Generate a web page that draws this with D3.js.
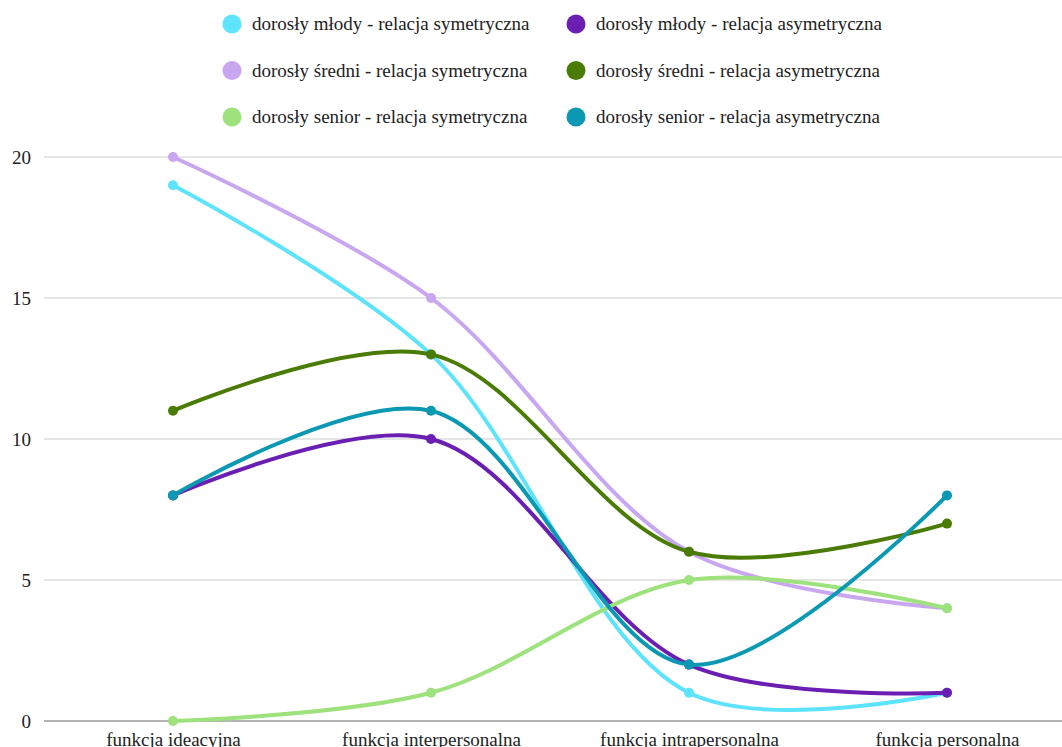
<!DOCTYPE html>
<html lang="pl">
<head>
<meta charset="utf-8">
<script src="https://cdn.jsdelivr.net/npm/d3@7"></script>
<style>
  html, body { margin: 0; padding: 0; background: #fff; }
  svg { display: block; }
  text { font-family: "Liberation Serif", "Times New Roman", Tinos, serif; fill: #222; }
</style>
</head>
<body>
<svg id="chart" width="1062" height="747"></svg>
<script>
// Categories on the x axis
const categories = [
  "funkcja ideacyjna",
  "funkcja interpersonalna",
  "funkcja intrapersonalna",
  "funkcja personalna"
];

// Series names (legend order, row by row)
const seriesNames = [
  "dorosły młody - relacja symetryczna",
  "dorosły młody - relacja asymetryczna",
  "dorosły średni - relacja symetryczna",
  "dorosły średni - relacja asymetryczna",
  "dorosły senior - relacja symetryczna",
  "dorosły senior - relacja asymetryczna"
];

// Values per series, one per category
const mlodySym   = [19, 13, 1, 1];
const mlodyAsym  = [8, 10, 2, 1];
const sredniSym  = [20, 15, 6, 4];
const sredniAsym = [11, 13, 6, 7];
const seniorSym  = [0, 1, 5, 4];
const seniorAsym = [8, 11, 2, 8];

const seriesValues = [mlodySym, mlodyAsym, sredniSym, sredniAsym, seniorSym, seniorAsym];
const seriesColors = ["#5de3fb", "#6a1fb2", "#c9a7f0", "#4a7b05", "#9de27c", "#0a98b3"];

// Y axis ticks
const yTicks = [0, 5, 10, 15, 20];

const FONT = 19;
const svg = d3.select("#chart");

const x = d3.scalePoint()
  .domain(categories)
  .range([44, 1076])
  .padding(0.5);

const y = d3.scaleLinear()
  .domain([0, 20])
  .range([721, 157]);

// Gridlines
svg.append("g")
  .selectAll("line")
  .data(yTicks)
  .join("line")
  .attr("x1", 44)
  .attr("x2", 1062)
  .attr("y1", d => y(d))
  .attr("y2", d => y(d))
  .attr("stroke", d => d === 0 ? "#9a9a9a" : "#dcdcdc")
  .attr("stroke-width", 1.5);

// Y axis labels
const yAxis = d3.axisLeft(y).tickValues(yTicks).tickSize(0).tickPadding(0);
svg.append("g")
  .attr("transform", "translate(31,0)")
  .call(yAxis)
  .call(g => g.select(".domain").remove())
  .call(g => g.selectAll("text")
    .attr("font-size", FONT)
    .attr("fill", "#222")
    .attr("dy", "0.35em"));

// X axis labels
const xAxis = d3.axisBottom(x).tickSize(0).tickPadding(0);
svg.append("g")
  .attr("transform", "translate(0,732)")
  .call(xAxis)
  .call(g => g.select(".domain").remove())
  .call(g => g.selectAll("text")
    .attr("font-size", FONT)
    .attr("fill", "#222")
    .attr("dy", "0.75em"));

// Lines and markers
const line = d3.line()
  .x((d, i) => x(categories[i]))
  .y(d => y(d))
  .curve(d3.curveCatmullRom.alpha(0.5));

const series = seriesValues.map((vals, i) => ({ name: seriesNames[i], values: vals, color: seriesColors[i] }));

const groups = svg.append("g")
  .selectAll("g")
  .data(series)
  .join("g");

groups.append("path")
  .attr("d", d => line(d.values))
  .attr("fill", "none")
  .attr("stroke", d => d.color)
  .attr("stroke-width", 4)
  .attr("stroke-linejoin", "round")
  .attr("stroke-linecap", "round");

groups.selectAll("circle")
  .data(d => d.values.map((v, i) => ({ v, i, color: d.color })))
  .join("circle")
  .attr("cx", d => x(categories[d.i]))
  .attr("cy", d => y(d.v))
  .attr("r", 5)
  .attr("fill", d => d.color);

// Legend: two columns, three rows
const legendCols = [232, 576];
const legendRows = [24, 70.5, 117];
const legend = svg.append("g")
  .selectAll("g")
  .data(series)
  .join("g")
  .attr("transform", (d, i) => `translate(${legendCols[i % 2]},${legendRows[Math.floor(i / 2)]})`);

legend.append("circle")
  .attr("r", 9.5)
  .attr("fill", d => d.color);

legend.append("text")
  .attr("x", 20)
  .attr("dy", "0.32em")
  .attr("font-size", FONT)
  .text(d => d.name);
</script>
</body>
</html>
